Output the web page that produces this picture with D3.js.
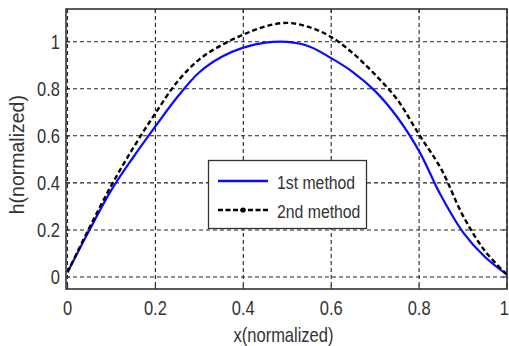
<!DOCTYPE html>
<html>
<head>
<meta charset="utf-8">
<script src="https://cdn.jsdelivr.net/npm/d3@7"></script>
<style>
  html, body { margin: 0; padding: 0; background: #fff; }
  svg { display: block; }
  text { font-family: "Liberation Sans", Arial, sans-serif; fill: #333; }
</style>
</head>
<body>
<svg id="chart" width="509" height="346"></svg>
<script>
// ---- data ----
const xValues = [0, 0.05, 0.1, 0.15, 0.2, 0.25, 0.3, 0.35, 0.4, 0.45, 0.5, 0.55, 0.6, 0.65, 0.7, 0.75, 0.8, 0.85, 0.9, 0.95, 1];
const method1 = [0.02, 0.2, 0.37, 0.51, 0.64, 0.765, 0.87, 0.935, 0.975, 0.996, 0.999, 0.98, 0.93, 0.87, 0.79, 0.68, 0.535, 0.345, 0.19, 0.085, 0.01];
const method2 = [0.02, 0.21, 0.39, 0.55, 0.696, 0.83, 0.925, 0.985, 1.03, 1.065, 1.08, 1.062, 1.02, 0.95, 0.86, 0.755, 0.605, 0.46, 0.26, 0.11, 0.01];
const xTicks = [0, 0.2, 0.4, 0.6, 0.8, 1];
const yTicks = [0, 0.2, 0.4, 0.6, 0.8, 1];
const xTickLabels = ["0", "0.2", "0.4", "0.6", "0.8", "1"];
const yTickLabels = ["0", "0.2", "0.4", "0.6", "0.8", "1"];
const seriesNames = ["1st method", "2nd method"];
const xTitle = "x(normalized)";
const yTitle = "h(normalized)";

// ---- layout ----
const svg = d3.select("#chart");
const frame = { left: 66, right: 507, top: 9, bottom: 289 };
const x = d3.scaleLinear().domain([0, 1]).range([67.5, 507]);
const y = d3.scaleLinear().domain([-0.051, 1.139]).range([289, 9]);
const sy = 1.22; // vertical stretch of the text

// grid
const gridColor = "#222";
svg.append("g").selectAll("line").data(xTicks).join("line")
  .attr("x1", d => x(d)).attr("x2", d => x(d))
  .attr("y1", frame.top).attr("y2", frame.bottom)
  .attr("stroke", gridColor).attr("stroke-width", 1.1).attr("stroke-dasharray", "4,3");
svg.append("g").selectAll("line").data(yTicks).join("line")
  .attr("x1", frame.left).attr("x2", frame.right)
  .attr("y1", d => y(d)).attr("y2", d => y(d))
  .attr("stroke", gridColor).attr("stroke-width", 1.1).attr("stroke-dasharray", "4,3");

// frame
svg.append("rect")
  .attr("x", frame.left).attr("y", frame.top)
  .attr("width", frame.right - frame.left).attr("height", frame.bottom - frame.top)
  .attr("fill", "none").attr("stroke", "#333").attr("stroke-width", 1.6);

// inward ticks
const tl = 4;
const tickG = svg.append("g").attr("stroke", "#333").attr("stroke-width", 1.2);
xTicks.forEach(d => {
  tickG.append("line").attr("x1", x(d)).attr("x2", x(d)).attr("y1", frame.bottom).attr("y2", frame.bottom - tl);
  tickG.append("line").attr("x1", x(d)).attr("x2", x(d)).attr("y1", frame.top).attr("y2", frame.top + tl);
});
yTicks.forEach(d => {
  tickG.append("line").attr("x1", frame.left).attr("x2", frame.left + tl).attr("y1", y(d)).attr("y2", y(d));
  tickG.append("line").attr("x1", frame.right).attr("x2", frame.right - tl).attr("y1", y(d)).attr("y2", y(d));
});

// tick labels (stretched vertically)
svg.append("g").selectAll("text").data(xTicks).join("text")
  .attr("transform", (d, i) => `translate(${i === xTicks.length - 1 ? 509 : x(d)},${315}) scale(1,${sy})`)
  .attr("text-anchor", (d, i) => i === xTicks.length - 1 ? "end" : "middle")
  .attr("font-size", 16.5)
  .text((d, i) => xTickLabels[i]);
svg.append("g").selectAll("text").data(yTicks).join("text")
  .attr("transform", d => `translate(${60},${y(d) + 7}) scale(1,${sy})`)
  .attr("text-anchor", "end").attr("font-size", 16.5)
  .text((d, i) => yTickLabels[i]);

// axis titles
svg.append("text")
  .attr("transform", `translate(${(frame.left + frame.right) / 2 - 3},${342}) scale(1,${sy})`)
  .attr("text-anchor", "middle").attr("font-size", 16.5)
  .text(xTitle);
svg.append("text")
  .attr("transform", `translate(${24},${y(0.52)}) rotate(-90)`)
  .attr("text-anchor", "middle").attr("font-size", 19.5)
  .text(yTitle);

// curves
const line = d3.line().x(d => x(d[0])).y(d => y(d[1])).curve(d3.curveCatmullRom.alpha(0.5));
svg.append("path").datum(xValues.map((v, i) => [v, method1[i]]))
  .attr("d", line).attr("fill", "none")
  .attr("stroke", "#0a0aff").attr("stroke-width", 2.2);
svg.append("path").datum(xValues.map((v, i) => [v, method2[i]]))
  .attr("d", line).attr("fill", "none")
  .attr("stroke", "#000").attr("stroke-width", 2.4).attr("stroke-dasharray", "5,3");

// legend
const lg = svg.append("g");
lg.append("rect").attr("x", 208.5).attr("y", 160.5).attr("width", 158).attr("height", 68)
  .attr("fill", "#fff").attr("stroke", "#333").attr("stroke-width", 1.3);
const legendRows = [
  { name: seriesNames[0], color: "#0a0aff", dash: null, yy: 181 },
  { name: seriesNames[1], color: "#000", dash: "5,2.5", yy: 210 }
];
legendRows.forEach((r, i) => {
  lg.append("line").attr("x1", 218).attr("x2", 268).attr("y1", r.yy).attr("y2", r.yy)
    .attr("stroke", r.color).attr("stroke-width", i === 0 ? 2.4 : 2.6)
    .attr("stroke-dasharray", r.dash);
  if (i === 1) {
    lg.append("circle").attr("cx", 243).attr("cy", r.yy).attr("r", 2.6).attr("fill", "#000");
  }
  lg.append("text")
    .attr("transform", `translate(${277},${r.yy + 8}) scale(1,${sy})`)
    .attr("font-size", 15.8).attr("fill", "#222")
    .text(r.name);
});
</script>
</body>
</html>
